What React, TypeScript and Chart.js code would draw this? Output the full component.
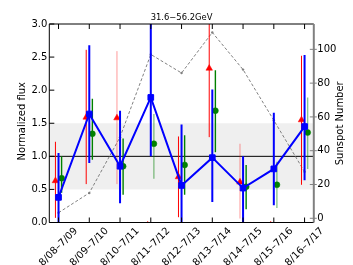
import React, { useEffect, useRef } from 'react';
import { Chart, registerables } from 'chart.js';

Chart.register(...registerables);

const categories = ['8/08–7/09', '8/09–7/10', '8/10–7/11', '8/11–7/12', '8/12–7/13', '8/13–7/14', '8/14–7/15', '8/15–7/16', '8/16–7/17'];

const blueFlux = [0.38, 1.64, 0.85, 1.89, 0.56, 0.98, 0.52, 0.81, 1.45];
const blueLow = [-0.2, 0.9, 0.29, 1.0, -0.2, 0.31, -0.2, 0.26, 0.64];
const blueHigh = [1.05, 2.68, 1.69, 3.2, 1.48, 2.01, 1.0, 1.66, 2.53];

const redFlux = [0.63, 1.59, 1.58, -0.04, 0.69, 2.33, 0.61, -0.04, 1.55];
const redLow = [0.07, 0.58, 0.58, null, 0.08, 1.29, 0.06, null, 0.57];
const redHigh = [1.22, 2.61, 2.59, null, 1.3, 3.3, 1.19, null, 2.52];
const redFaint = [false, false, true, false, false, false, true, false, false];

const greenFlux = [0.67, 1.34, 0.85, 1.19, 0.87, 1.69, 0.54, 0.57, 1.36];
const greenLow = [0.45, 0.95, 0.42, 0.66, 0.42, 1.06, 0.2, 0.22, 0.81];
const greenHigh = [1.0, 1.87, 1.27, 1.64, 1.32, 2.3, 0.87, 0.92, 1.89];
const greenFaint = [false, false, false, true, false, false, false, true, true];

const sunspot = [3.3, 15, 48, 97, 86, 110, 88, 58, 27.5];

const fluxTicks = [0, 0.5, 1.0, 1.5, 2.0, 2.5, 3.0];
const sunspotTicks = [0, 20, 40, 60, 80, 100];

const titleText = '31.6−56.2GeV';
const leftTitle = 'Normalized flux';
const rightTitle = 'Sunspot Number';

const FONT = '"DejaVu Sans", sans-serif';

const errorBarPlugin = {
  id: 'errorBars',
  beforeDatasetDraw(chart: any, args: any) {
    const ds: any = chart.data.datasets[args.index];
    if (!ds.errLow) return;
    const { ctx, chartArea, scales } = chart;
    const xs = scales.x;
    const ys = scales[ds.yAxisID || 'y'];
    ctx.save();
    ctx.beginPath();
    ctx.rect(chartArea.left, chartArea.top, chartArea.right - chartArea.left, chartArea.bottom - chartArea.top);
    ctx.clip();
    ds.data.forEach((p: any, i: number) => {
      const lo = ds.errLow[i];
      const hi = ds.errHigh[i];
      if (lo == null || hi == null) return;
      const x = xs.getPixelForValue(p.x);
      ctx.beginPath();
      ctx.strokeStyle = ds.errFaint && ds.errFaint[i] ? ds.errFaintColor : ds.errColor;
      ctx.lineWidth = ds.errWidth;
      ctx.moveTo(x, ys.getPixelForValue(lo));
      ctx.lineTo(x, ys.getPixelForValue(hi));
      ctx.stroke();
    });
    ctx.restore();
  },
};

const decorPlugin = {
  id: 'decor',
  beforeDatasetsDraw(chart: any) {
    const { ctx, chartArea, scales } = chart;
    const y = scales.y;
    ctx.save();
    ctx.fillStyle = '#efefef';
    const t = y.getPixelForValue(1.5);
    const b = y.getPixelForValue(0.5);
    ctx.fillRect(chartArea.left, t, chartArea.right - chartArea.left, b - t);
    ctx.strokeStyle = '#000';
    ctx.lineWidth = 1;
    ctx.beginPath();
    const y1 = y.getPixelForValue(1.0);
    ctx.moveTo(chartArea.left, y1);
    ctx.lineTo(chartArea.right, y1);
    ctx.stroke();
    ctx.restore();
  },
  afterDraw(chart: any) {
    const { ctx, chartArea, scales } = chart;
    const { left, right, top, bottom } = chartArea;
    const xs = scales.x;
    const ys = scales.y;
    const y2 = scales.y2;
    ctx.save();
    // spines
    ctx.strokeStyle = '#000';
    ctx.lineWidth = 1;
    ctx.beginPath();
    ctx.moveTo(right, top);
    ctx.lineTo(left, top);
    ctx.lineTo(left, bottom);
    ctx.lineTo(right, bottom);
    ctx.stroke();
    // left ticks
    ctx.beginPath();
    fluxTicks.forEach((v) => {
      const py = ys.getPixelForValue(v);
      ctx.moveTo(left, py);
      ctx.lineTo(left + 5, py);
    });
    // top/bottom ticks
    categories.forEach((_, i) => {
      const px = xs.getPixelForValue(i);
      ctx.moveTo(px, bottom);
      ctx.lineTo(px, bottom - 5);
      ctx.moveTo(px, top);
      ctx.lineTo(px, top + 5);
    });
    ctx.stroke();
    // right spine and ticks (gray)
    ctx.strokeStyle = '#808080';
    ctx.lineWidth = 2;
    ctx.beginPath();
    ctx.moveTo(right, top);
    ctx.lineTo(right, bottom);
    ctx.stroke();
    ctx.lineWidth = 1;
    ctx.beginPath();
    sunspotTicks.forEach((v) => {
      const py = y2.getPixelForValue(v);
      ctx.moveTo(right - 4, py);
      ctx.lineTo(right + 3, py);
    });
    ctx.stroke();
    // x labels
    ctx.fillStyle = '#000';
    ctx.font = `10px ${FONT}`;
    ctx.textAlign = 'center';
    ctx.textBaseline = 'middle';
    categories.forEach((c, i) => {
      const px = xs.getPixelForValue(i);
      ctx.save();
      ctx.translate(px, 247);
      ctx.rotate(-Math.PI / 4);
      ctx.fillText(c, 0, 0);
      ctx.restore();
    });
    // axis titles
    ctx.save();
    ctx.translate(22.7, (top + bottom) / 2 - 2);
    ctx.rotate(-Math.PI / 2);
    ctx.fillText(leftTitle, 0, 0);
    ctx.restore();
    ctx.save();
    ctx.translate(340.7, (top + bottom) / 2);
    ctx.rotate(-Math.PI / 2);
    ctx.fillText(rightTitle, 0, 0);
    ctx.restore();
    // title
    ctx.font = `8.4px ${FONT}`;
    ctx.textBaseline = 'alphabetic';
    ctx.fillText(titleText, (left + right) / 2, 20);
    ctx.restore();
  },
};

export default function App() {
  const ref = useRef<HTMLCanvasElement | null>(null);
  useEffect(() => {
    if (!ref.current) return;
    const tickFont = { family: FONT, size: 10 };
    const chart = new Chart(ref.current, {
      type: 'line',
      data: {
        datasets: [
          {
            label: 'blue',
            data: blueFlux.map((v, i) => ({ x: i, y: v })),
            yAxisID: 'y',
            borderColor: '#0000ff',
            backgroundColor: '#0000ff',
            borderWidth: 2,
            pointStyle: 'rect',
            pointRadius: 4,
            pointBorderWidth: 1,
            showLine: true,
            order: 0,
            errLow: blueLow,
            errHigh: blueHigh,
            errColor: '#0000ff',
            errFaintColor: 'rgba(0,0,255,0.45)',
            errWidth: 2,
          } as any,
          {
            label: 'green',
            data: greenFlux.map((v, i) => ({ x: i + 0.1, y: v })),
            yAxisID: 'y',
            borderColor: '#008000',
            backgroundColor: '#008000',
            pointStyle: 'circle',
            pointRadius: 3,
            pointBorderWidth: 0.5,
            showLine: false,
            order: 1,
            errLow: greenLow,
            errHigh: greenHigh,
            errFaint: greenFaint,
            errColor: '#008000',
            errFaintColor: 'rgba(0,128,0,0.45)',
            errWidth: 1.4,
          } as any,
          {
            label: 'red',
            data: redFlux.map((v, i) => ({ x: i - 0.1, y: v })),
            yAxisID: 'y',
            borderColor: '#ff0000',
            backgroundColor: '#ff0000',
            pointStyle: 'triangle',
            pointRadius: 3.8,
            pointBorderWidth: 0.5,
            showLine: false,
            clip: 0,
            order: 2,
            errLow: redLow,
            errHigh: redHigh,
            errFaint: redFaint,
            errColor: '#ff0000',
            errFaintColor: 'rgba(255,0,0,0.4)',
            errWidth: 1,
          } as any,
          {
            label: 'sunspot',
            data: sunspot.map((v, i) => ({ x: i, y: v })),
            yAxisID: 'y2',
            borderColor: '#808080',
            backgroundColor: '#808080',
            borderWidth: 1,
            borderDash: [3, 2],
            pointRadius: 1.2,
            pointBorderWidth: 0,
            showLine: true,
            order: 3,
          } as any,
        ],
      },
      options: {
        animation: false,
        responsive: false,
        layout: { padding: { top: 24, left: 0, right: 0, bottom: 0 } },
        plugins: {
          legend: { display: false },
          tooltip: { enabled: false },
          title: { display: false },
        },
        scales: {
          x: {
            type: 'linear',
            min: -0.3,
            max: 8.3,
            grid: { display: false, drawTicks: false },
            border: { display: false },
            ticks: { display: false },
            afterFit: (s: any) => {
              s.height = 42.5;
            },
          },
          y: {
            type: 'linear',
            position: 'left',
            min: 0,
            max: 3,
            afterBuildTicks: (s: any) => {
              s.ticks = fluxTicks.map((v) => ({ value: v }));
            },
            ticks: {
              font: tickFont,
              color: '#000',
              padding: 2,
              callback: (v: any) => Number(v).toFixed(1),
            },
            grid: { display: false, drawTicks: false },
            border: { display: false },
            afterFit: (s: any) => {
              s.width = 49.3;
            },
          },
          y2: {
            type: 'linear',
            position: 'right',
            min: -2.5,
            max: 115,
            afterBuildTicks: (s: any) => {
              s.ticks = sunspotTicks.map((v) => ({ value: v }));
            },
            ticks: {
              font: tickFont,
              color: '#000',
              padding: 3.5,
              callback: (v: any) => String(v),
            },
            grid: { display: false, drawTicks: false },
            border: { display: false },
            afterFit: (s: any) => {
              s.width = 39.2;
            },
          },
        },
      } as any,
      plugins: [errorBarPlugin, decorPlugin],
    });
    return () => chart.destroy();
  }, []);
  return (
    <div style={{ position: 'fixed', left: 0, top: 0, width: 353, height: 265, background: '#fff' }}>
      <canvas ref={ref} width={353} height={265} style={{ width: 353, height: 265, display: 'block' }} />
    </div>
  );
}
